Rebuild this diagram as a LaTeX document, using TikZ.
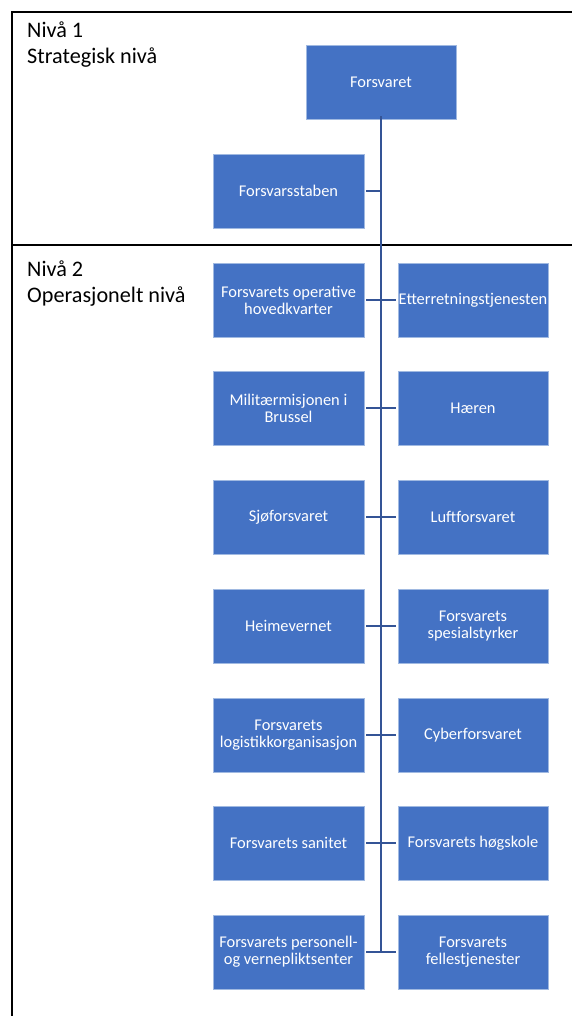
\documentclass[tikz,border=0pt]{standalone}
\usepackage{fontspec}
\setmainfont{Carlito}
\definecolor{boxblue}{RGB}{68,114,196}
\definecolor{boxedge}{RGB}{160,185,225}
\definecolor{linkblue}{RGB}{52,84,150}
\tikzset{
  orgbox/.style={draw=boxedge, line width=0.6pt, fill=boxblue, text=white,
    minimum width=151pt, minimum height=74pt, inner sep=0pt, align=center,
    font=\fontsize{16.4}{17}\selectfont},
  link/.style={draw=linkblue, line width=2pt},
  frame/.style={draw=black, line width=1.3pt},
  leveltext/.style={anchor=base west, inner sep=0pt, align=left,
    font=\fontsize{22.2}{26}\selectfont}
}
\begin{document}
\begin{tikzpicture}[x=1pt,y=-1pt]
\useasboundingbox (0,0) rectangle (572,1016);
% frame
\draw[frame] (572,12) -- (12,12) -- (12,1016);
\draw[frame] (12,245) -- (572,245);
% level texts
\node[leveltext] (n1a) at (27,37.5) {Nivå 1};
\node[leveltext] (n1b) at (27,63.5) {Strategisk nivå};
\node[leveltext] (n2a) at (27,276) {Nivå 2};
\node[leveltext] (n2b) at (27,302) {Operasjonelt nivå};
% boxes
\node[orgbox, minimum width=150pt] (top) at (381,82) {Forsvaret};
\node[orgbox] (stab) at (288.5,191) {Forsvarsstaben};
\node[orgbox] (l1) at (288.5,300) {Forsvarets operative\\hovedkvarter};
\node[orgbox, minimum width=150pt] (r1) at (473,300) {Etterretningstjenesten};
\node[orgbox] (l2) at (288.5,408) {Militærmisjonen i\\Brussel};
\node[orgbox, minimum width=150pt] (r2) at (473,408) {Hæren};
\node[orgbox] (l3) at (288.5,517) {Sjøforsvaret};
\node[orgbox, minimum width=150pt] (r3) at (473,517) {Luftforsvaret};
\node[orgbox] (l4) at (288.5,626) {Heimevernet};
\node[orgbox, minimum width=150pt] (r4) at (473,626) {Forsvarets\\spesialstyrker};
\node[orgbox] (l5) at (288.5,735) {Forsvarets\\logistikkorganisasjon};
\node[orgbox, minimum width=150pt] (r5) at (473,735) {Cyberforsvaret};
\node[orgbox] (l6) at (288.5,843) {Forsvarets sanitet};
\node[orgbox, minimum width=150pt] (r6) at (473,843) {Forsvarets høgskole};
\node[orgbox] (l7) at (288.5,952) {Forsvarets personell-\\og vernepliktsenter};
\node[orgbox, minimum width=150pt] (r7) at (473,952) {Forsvarets\\fellestjenester};
% trunk
\coordinate (trunkend) at (381,952);
\draw[link] ([yshift=3pt]top.south) -- (trunkend);
% connectors
\draw[link] ([xshift=2pt]stab.east) -- (stab.east -| trunkend);
\foreach \i in {1,...,7}{
  \draw[link] ([xshift=2pt]l\i.east) -- ([xshift=-2pt]r\i.west);
}
\end{tikzpicture}
\end{document}
